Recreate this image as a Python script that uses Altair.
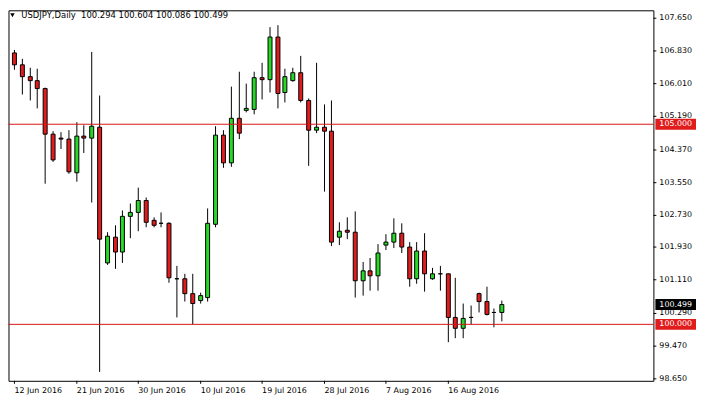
import altair as alt
import numpy as np
import pandas as pd

# ---- data (USDJPY daily) ----
opens = [106.785, 106.488, 106.191, 106.092, 105.894, 104.757, 104.658, 104.633, 103.792, 104.707,
         104.658, 104.930, 101.542, 102.185, 101.814, 102.704, 102.803, 103.100, 102.606, 102.531,
         102.531, 101.147, 101.147, 100.776, 100.603, 100.677, 102.507, 104.732, 104.040, 105.152,
         105.350, 105.375, 106.166, 106.117, 107.180, 105.795, 106.092, 106.290, 105.598, 104.856,
         104.930, 104.831, 102.185, 102.358, 102.309, 101.097, 101.344, 101.221, 101.987, 102.062,
         102.284, 101.938, 101.147, 101.839, 101.147, 101.270, 101.270, 100.182, 99.910, 100.182,
         100.776, 100.578, 100.306, 100.294]
highs = [106.859, 106.636, 106.414, 106.389, 105.919, 104.831, 104.806, 104.856, 105.054, 104.979,
         106.809, 105.721, 102.309, 102.482, 102.853, 103.026, 103.422, 103.174, 102.680, 102.803,
         102.545, 101.468, 101.270, 101.270, 100.800, 102.902, 104.955, 104.856, 105.944, 106.315,
         106.018, 106.315, 106.537, 107.427, 107.477, 106.389, 106.414, 106.710, 105.647, 106.537,
         105.499, 105.598, 102.556, 102.680, 102.828, 101.567, 101.666, 102.012, 102.259, 102.655,
         102.531, 102.062, 102.062, 102.284, 101.419, 101.468, 101.280, 101.171, 100.528, 100.479,
         100.790, 100.949, 100.405, 100.604]
lows = [106.364, 105.746, 105.598, 105.400, 103.520, 104.064, 104.386, 103.768, 103.570, 104.287,
        103.051, 98.822, 101.493, 101.394, 101.542, 102.160, 102.334, 102.432, 102.432, 102.432,
        101.048, 100.182, 100.578, 100.009, 100.528, 100.578, 102.432, 103.916, 103.941, 104.633,
        105.301, 105.251, 105.622, 105.795, 105.400, 105.548, 106.067, 105.548, 103.966, 104.782,
        103.323, 101.963, 101.987, 102.136, 100.677, 100.726, 100.850, 100.850, 101.864, 101.913,
        101.790, 100.949, 101.023, 100.825, 101.122, 100.850, 99.564, 99.663, 99.663, 100.009,
        100.306, 100.232, 99.935, 100.086]
closes = [106.488, 106.191, 106.092, 105.894, 104.757, 104.114, 104.633, 103.817, 104.707, 104.658,
          104.955, 102.136, 102.210, 101.814, 102.704, 102.803, 103.100, 102.556, 102.482, 102.531,
          101.171, 101.147, 100.776, 100.528, 100.726, 102.531, 104.732, 104.040, 105.152, 104.782,
          105.400, 106.166, 106.117, 107.180, 105.771, 106.191, 106.290, 105.598, 104.856, 104.930,
          104.831, 102.062, 102.334, 102.309, 101.097, 101.344, 101.221, 101.790, 102.062, 102.284,
          101.938, 101.147, 101.839, 101.270, 101.270, 101.270, 100.182, 99.910, 100.157, 100.182,
          100.578, 100.256, 100.306, 100.499]

date_ticks = [0, 8, 16, 24, 32, 40, 48, 56]
date_labels = ["12 Jun 2016", "21 Jun 2016", "30 Jun 2016", "10 Jul 2016",
               "19 Jul 2016", "28 Jul 2016", "7 Aug 2016", "16 Aug 2016"]
price_ticks = [107.65, 106.83, 106.01, 105.19, 104.37, 103.55, 102.73,
               101.93, 101.11, 100.29, 99.47, 98.65]
levels = [105.0, 100.0]
last_price = 100.499
symbol = "USDJPY,Daily"

# ---- styling ----
FONT = "DejaVu Sans"
GREEN = "#27d827"
RED = "#e01c1c"
LINE_RED = "#d81414"

n = len(opens)
df = pd.DataFrame({"i": np.arange(n), "open": opens, "high": highs, "low": lows, "close": closes})
o = np.array(opens)
c = np.array(closes)
df["fill"] = np.where(c > o, GREEN, np.where(c < o, RED, "black"))

xscale = alt.Scale(domain=[-0.126, 81.9], nice=False, zero=False, round=True)
yscale = alt.Scale(domain=[98.5995, 107.8478], nice=False, zero=False, round=True)

label_expr = "".join(f"datum.value == {t} ? '{l}' : " for t, l in zip(date_ticks, date_labels)) + "''"

x_axis = alt.Axis(values=date_ticks, labelExpr=label_expr, labelAlign="left", labelBaseline="top",
                  tickSize=3, labelPadding=3, labelFlush=False, labelOverlap=False, title=None,
                  domain=False, grid=False)
y_axis = alt.Axis(orient="right", values=price_ticks, format=".3f", labelAlign="left",
                  labelBaseline="middle", tickSize=3, labelPadding=3, labelFlush=False,
                  labelOverlap=False, title=None, domain=False, grid=False)

base = alt.Chart(df)
wicks = base.mark_rule(color="black", strokeWidth=1, clip=True).encode(
    x=alt.X("i:Q", scale=xscale, axis=x_axis),
    y=alt.Y("low:Q", scale=yscale, axis=y_axis),
    y2="high:Q",
)
bodies = base.mark_bar(size=4, stroke="black", strokeWidth=1, clip=True).encode(
    x=alt.X("i:Q", scale=xscale, axis=x_axis),
    y=alt.Y("open:Q", scale=yscale, axis=y_axis),
    y2="close:Q",
    fill=alt.Fill("fill:N", scale=None),
)

lv = pd.DataFrame({"price": levels})
hlines = alt.Chart(lv).mark_rule(color=LINE_RED, strokeWidth=1).encode(
    y=alt.Y("price:Q", scale=yscale, axis=y_axis))

bx = pd.DataFrame({
    "price": levels + [last_price],
    "label": [f"{v:.3f}" for v in levels + [last_price]],
    "bg": [RED, RED, "black"],
})
box_rect = alt.Chart(bx).mark_rect(yOffset=-5.5, y2Offset=5.5).encode(
    x=alt.value(653), x2=alt.value(694),
    y=alt.Y("price:Q", scale=yscale, axis=y_axis), y2=alt.Y2("price"),
    fill=alt.Fill("bg:N", scale=None),
)
box_text = alt.Chart(bx).mark_text(align="left", baseline="middle", color="white",
                                    font=FONT, fontSize=8).encode(
    x=alt.value(657), y=alt.Y("price:Q", scale=yscale, axis=y_axis), text="label:N")

header_text = symbol + "\u00a0\u00a0" + " ".join(f"{v:.3f}" for v in
                                                [opens[-1], highs[-1], lows[-1], closes[-1]])
header = alt.Chart(pd.DataFrame({"t": [header_text]})).mark_text(
    align="left", baseline="alphabetic", font=FONT, fontSize=8.5, color="black").encode(
    x=alt.value(13), y=alt.value(8), text="t:N")
tri = alt.Chart(pd.DataFrame({"t": [0]})).mark_point(
    shape="triangle-down", filled=True, color="black", size=20, opacity=1).encode(
    x=alt.value(4), y=alt.value(5))

chart = alt.layer(wicks, bodies, hlines, box_rect, box_text, header, tri).properties(
    width=651, height=374,
    autosize=alt.AutoSizeParams(type="none"),
    padding={"left": 0.5, "top": 0.5, "right": 43, "bottom": 14},
).configure(background="white").configure_view(
    stroke="black", strokeWidth=1
).configure_axis(
    labelFont=FONT, labelFontSize=8, labelColor="black", tickColor="black", tickWidth=1,
    translate=0, labelOverlap=False,
)

chart.save("out.html", embed_options={"renderer": "svg", "actions": False})
